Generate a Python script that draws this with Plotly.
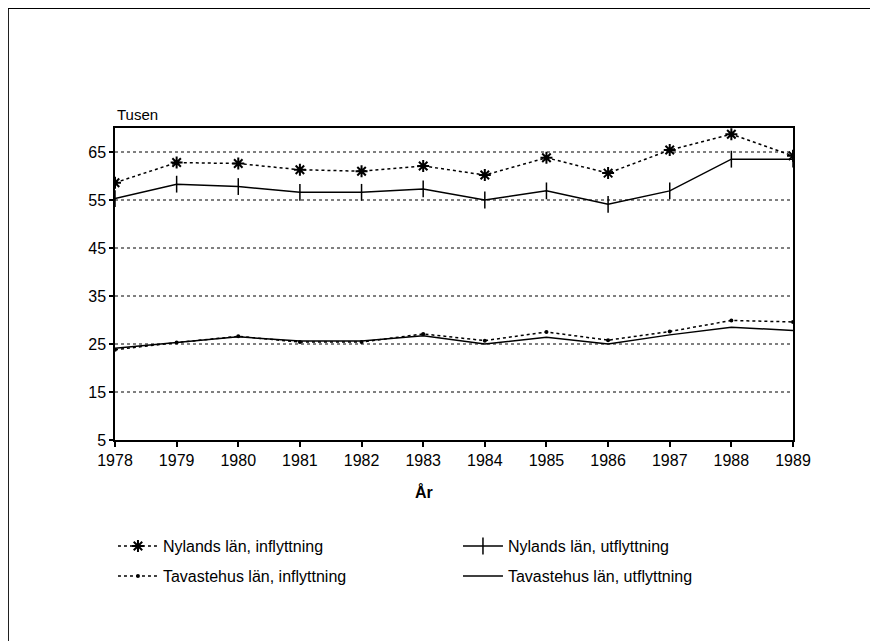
import plotly.graph_objects as go

# data (thousands of persons)
years = [1978, 1979, 1980, 1981, 1982, 1983, 1984, 1985, 1986, 1987, 1988, 1989]
nyl_in = [58.6, 62.8, 62.6, 61.3, 61.0, 62.1, 60.2, 63.8, 60.6, 65.4, 68.7, 64.2]
nyl_ut = [55.3, 58.3, 57.8, 56.6, 56.6, 57.3, 55.0, 56.9, 54.1, 56.9, 63.5, 63.5]
tav_in = [23.8, 25.3, 26.6, 25.4, 25.4, 27.1, 25.7, 27.5, 25.8, 27.6, 29.9, 29.6]
tav_ut = [24.1, 25.3, 26.5, 25.6, 25.6, 26.7, 25.0, 26.4, 25.0, 26.9, 28.5, 27.8]
y_ticks = [5, 15, 25, 35, 45, 55, 65]

FONT = "Liberation Sans, Arial, sans-serif"

fig = go.Figure()
fig.add_trace(go.Scatter(
    x=years, y=nyl_in, name="Nylands län, inflyttning", mode="lines+markers",
    line=dict(color="black", width=1.5, dash="dot"),
    marker=dict(symbol="asterisk", size=10, color="black", line=dict(color="black", width=2)),
    legend="legend",
))
fig.add_trace(go.Scatter(
    x=years, y=nyl_ut, name="Nylands län, utflyttning", mode="lines+markers",
    line=dict(color="black", width=1.5),
    marker=dict(symbol="line-ns", size=12, color="black", line=dict(color="black", width=1.5)),
    legend="legend",
))
fig.add_trace(go.Scatter(
    x=years, y=tav_in, name="Tavastehus län, inflyttning", mode="lines+markers",
    line=dict(color="black", width=1.5, dash="dot"),
    marker=dict(symbol="circle", size=4, color="black"),
    legend="legend2",
))
fig.add_trace(go.Scatter(
    x=years, y=tav_ut, name="Tavastehus län, utflyttning", mode="lines",
    line=dict(color="black", width=1.5),
    legend="legend2",
))

# gridlines drawn dotted as in the print
for v in y_ticks[1:]:
    fig.add_hline(y=v, line=dict(color="black", width=1, dash="dot"), layer="below")

# outer frame of the page (top and left edges only are visible)
fig.add_shape(type="line", xref="paper", yref="paper", x0=-0.158, x1=1.2, y0=1.385, y1=1.385,
              line=dict(color="black", width=2))
fig.add_shape(type="line", xref="paper", yref="paper", x0=-0.158, x1=-0.158, y0=1.385, y1=-0.7,
              line=dict(color="black", width=2))

fig.add_annotation(text="Tusen", xref="paper", yref="paper", x=0.0, y=1.0, yshift=3,
                   xanchor="left", yanchor="bottom", showarrow=False,
                   font=dict(family=FONT, size=15, color="black"))
fig.add_annotation(text="<b>År</b>", xref="paper", yref="paper", x=0.456, y=-0.167,
                   xanchor="center", yanchor="middle", showarrow=False,
                   font=dict(family=FONT, size=16, color="black"))

fig.update_xaxes(
    range=[1978, 1989], tickmode="array", tickvals=years,
    showgrid=False, zeroline=False, showline=True, linecolor="black", linewidth=1.5,
    mirror=True, ticks="outside", ticklen=5, tickcolor="black", tickwidth=1.5,
    tickfont=dict(family=FONT, size=16, color="black"),
)
fig.update_yaxes(
    range=[5, 70], tickmode="array", tickvals=y_ticks,
    showgrid=False, zeroline=False, showline=True, linecolor="black", linewidth=1.5,
    mirror=True, ticks="outside", ticklen=4, tickcolor="black", tickwidth=1.5,
    tickfont=dict(family=FONT, size=16, color="black"),
)

legend_style = dict(
    orientation="h", xanchor="left", yanchor="middle",
    itemwidth=40, entrywidth=290, entrywidthmode="pixels",
    font=dict(family=FONT, size=16, color="black"),
    bgcolor="rgba(0,0,0,0)",
)

fig.update_layout(
    width=878, height=641,
    margin=dict(l=107, r=93, t=120, b=209),
    paper_bgcolor="white", plot_bgcolor="white",
    font=dict(family=FONT, size=16, color="black"),
    showlegend=True,
    legend=dict(legend_style, x=-0.003, y=-0.34),
    legend2=dict(legend_style, x=-0.003, y=-0.436),
)

fig.write_html("out.html")
